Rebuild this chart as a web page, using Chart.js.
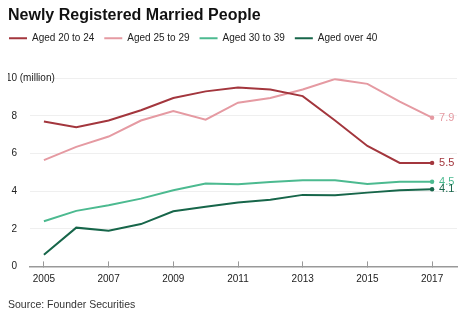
<!DOCTYPE html>
<html>
<head>
<meta charset="utf-8">
<script src="https://cdn.jsdelivr.net/npm/chart.js@4.4.1/dist/chart.umd.min.js"></script>
<style>
  html, body { margin: 0; padding: 0; background: #fff; }
  #wrap { width: 474px; height: 316px; position: relative; }
</style>
</head>
<body>
<div id="wrap"><canvas id="chart"></canvas></div>
<script>
    // Data (millions of people)
    const years = [2005, 2006, 2007, 2008, 2009, 2010, 2011, 2012, 2013, 2014, 2015, 2016, 2017];
    const aged20to24 = [7.7, 7.4, 7.75, 8.3, 8.95, 9.3, 9.5, 9.4, 9.05, 7.75, 6.4, 5.5, 5.5];
    const aged25to29 = [5.65, 6.35, 6.9, 7.75, 8.25, 7.8, 8.7, 8.95, 9.4, 9.95, 9.7, 8.75, 7.9];
    const aged30to39 = [2.4, 2.95, 3.25, 3.6, 4.05, 4.4, 4.37, 4.48, 4.58, 4.58, 4.38, 4.5, 4.5];
    const agedOver40 = [0.62, 2.06, 1.9, 2.25, 2.93, 3.17, 3.4, 3.54, 3.8, 3.78, 3.92, 4.04, 4.1];
    const seriesNames = ['Aged 20 to 24', 'Aged 25 to 29', 'Aged 30 to 39', 'Aged over 40'];
    const seriesColors = ['#a3363d', '#e59aa2', '#4cba90', '#17664a'];
    const yTicks = [0, 2, 4, 6, 8, 10];
    const xTickYears = [2005, 2007, 2009, 2011, 2013, 2015, 2017];

    const fontFamily = '"Liberation Sans", Arial, Helvetica, sans-serif';
    const lastIndex = years.length - 1;

    function makeDataset(name, values, color) {
        return {
            label: name,
            data: years.map((yr, i) => ({ x: yr, y: values[i] })),
            borderColor: color,
            backgroundColor: color,
            borderWidth: 2,
            tension: 0,
            pointRadius: ctx => ctx.dataIndex === lastIndex ? 2.2 : 0,
            pointHoverRadius: 0,
            pointBorderWidth: 0
        };
    }

    const allValues = [aged20to24, aged25to29, aged30to39, agedOver40];

    // legend sits a bit further left than the layout padding allows
    const legendShift = {
        id: 'legendShift',
        afterLayout(chart) {
            chart.legend.left -= 9;
        }
    };

    // Labels at the end of each line + "(million)" unit after top tick
    const endLabels = {
        id: 'endLabels',
        afterDatasetsDraw(chart) {
            const c = chart.ctx;
            c.save();
            c.font = '11px ' + fontFamily;
            c.textBaseline = 'middle';
            c.textAlign = 'left';
            chart.data.datasets.forEach((ds, i) => {
                const pt = chart.getDatasetMeta(i).data[lastIndex];
                c.fillStyle = ds.borderColor;
                c.fillText(allValues[i][lastIndex].toFixed(1), pt.x + 7, pt.y);
            });
            const yScale = chart.scales.y;
            const topY = yScale.getPixelForValue(10);
            const right = yScale.right - yScale.options.ticks.padding;
            c.font = '10px ' + fontFamily;
            c.fillStyle = '#222';
            c.fillText(' (million)', right, topY);
            c.restore();
        }
    };

    const ctx = document.getElementById('chart').getContext('2d');
    new Chart(ctx, {
        type: 'line',
        data: {
            datasets: seriesNames.map((n, i) => makeDataset(n, allValues[i], seriesColors[i]))
        },
        options: {
            responsive: true,
            maintainAspectRatio: false,
            animation: false,
            layout: { padding: { left: 8, right: 17, top: 0, bottom: 1 } },
            plugins: {
                title: {
                    display: true,
                    text: 'Newly Registered Married People',
                    align: 'start',
                    color: '#111',
                    font: { family: fontFamily, size: 16, weight: 'bold' },
                    padding: { top: 6, bottom: -2 }
                },
                legend: {
                    display: true,
                    align: 'start',
                    labels: {
                        boxWidth: 18,
                        boxHeight: 2,
                        padding: 10,
                        color: '#222',
                        font: { family: fontFamily, size: 10 },
                        generateLabels(chart) {
                            return chart.data.datasets.map((ds, i) => ({
                                text: ds.label,
                                fillStyle: ds.borderColor,
                                strokeStyle: ds.borderColor,
                                lineWidth: 0,
                                fontColor: '#222',
                                datasetIndex: i
                            }));
                        }
                    }
                },
                subtitle: {
                    display: true,
                    position: 'bottom',
                    align: 'start',
                    text: 'Source: Founder Securities',
                    color: '#333',
                    font: { family: fontFamily, size: 10.5 },
                    padding: { top: 1, bottom: 4 }
                },
                tooltip: { enabled: false }
            },
            scales: {
                x: {
                    type: 'linear',
                    min: 2004.57,
                    max: 2017.77,
                    afterBuildTicks: scale => {
                        scale.ticks = xTickYears.map(v => ({ value: v }));
                    },
                    grid: { drawOnChartArea: false, drawTicks: true, tickLength: -5, tickColor: '#999', tickWidth: 1 },
                    border: { display: true, color: '#999', width: 1.5 },
                    ticks: {
                        padding: 12,
                        color: '#222',
                        font: { family: fontFamily, size: 10 },
                        callback: v => String(v)
                    }
                },
                spacer: {
                    type: 'linear',
                    position: 'top',
                    display: true,
                    grid: { display: false },
                    border: { display: false },
                    ticks: { display: false },
                    afterFit: scale => { scale.height = 25; }
                },
                y: {
                    min: 0,
                    max: 10,
                    afterBuildTicks: scale => {
                        scale.ticks = yTicks.map(v => ({ value: v }));
                    },
                    afterFit: scale => { scale.width = 22; },
                    grid: { color: '#efefef', lineWidth: 1, drawTicks: false },
                    border: { display: false },
                    ticks: {
                        padding: 13,
                        color: '#222',
                        font: { family: fontFamily, size: 10 }
                    }
                }
            }
        },
        plugins: [legendShift, endLabels]
    });
</script>
</body>
</html>
